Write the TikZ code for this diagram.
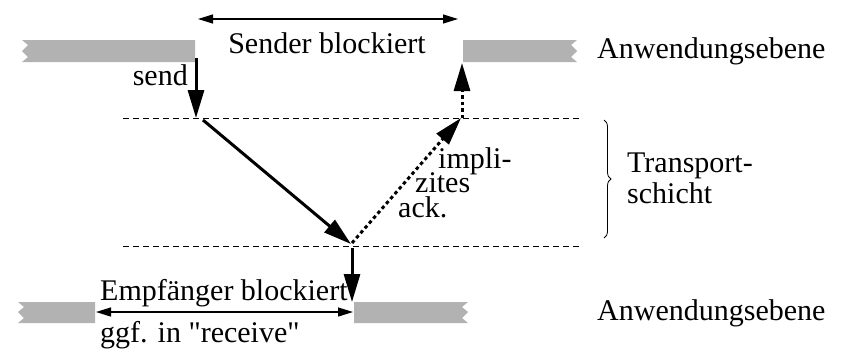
\documentclass[tikz,border=0pt]{standalone}
\usepackage{fontspec}
\setmainfont{Liberation Serif}[Ligatures=TeXOff]
\usetikzlibrary{positioning,arrows.meta,decorations.pathreplacing}

\begin{document}
\begin{tikzpicture}[
  x=1pt, y=-1pt,
  font=\fontsize{30}{34}\selectfont,
  bar/.style={fill=black!30, draw=none},
  layer/.style={dash pattern=on 6pt off 4pt, line width=0.8pt},
  msg/.style={-{Triangle[length=28pt,width=16pt]}, line width=3pt},
  ackmsg/.style={msg, dash pattern=on 3.5pt off 3pt},
  span/.style={{Triangle[length=15pt,width=9pt]}-{Triangle[length=15pt,width=9pt]}, line width=1.3pt},
  lbl/.style={inner sep=0pt},
  tight/.style={lbl, text height=17pt, text depth=2pt}
]
\useasboundingbox (0,0) rectangle (850,349);
% application level bars
\fill[bar] (22,40) -- (195,40) -- (195,62) -- (22,62) -- (28,57) -- (22,51) -- (28,45) -- cycle;
\fill[bar] (463,40) -- (577,40) -- (571,45) -- (577,51) -- (571,57) -- (577,62) -- (463,62) -- cycle;
\fill[bar] (18,302) -- (95,302) -- (95,323) -- (18,323) -- (24,318) -- (18,312) -- (24,307) -- cycle;
\fill[bar] (354,302) -- (468,302) -- (462,307) -- (468,312) -- (462,318) -- (468,323) -- (354,323) -- cycle;
% transport layer
\coordinate (tl) at (123,118);
\coordinate (tr) at (580,118);
\coordinate (bl) at (123,246);
\coordinate (br) at (580,246);
\draw[layer] (tl) -- (tr);
\draw[layer] (bl) -- (br);
% message points
\coordinate (snd) at (196,58);
\coordinate (sndT) at (196,118);
\coordinate (dwnA) at (203,120);
\coordinate (dwnB) at (351,244);
\coordinate (rcvA) at (352,248);
\coordinate (rcvB) at (352,302);
\coordinate (ackA) at (352,243);
\coordinate (ackB) at (461,118);
\coordinate (ackC) at (462,118);
\coordinate (ackD) at (462,63);
% blocking spans
\coordinate (sbA) at (198,19);
\coordinate (sbB) at (458,19);
\coordinate (ebA) at (96,312);
\coordinate (ebB) at (353,312);
% labels
\node[lbl, anchor=base] (sblk) at (327,53) {Sender blockiert};
\node[lbl, anchor=base east] (send) at (188,85) {send};
\node[lbl, anchor=base west] (app1) at (597,58) {Anwendungsebene};
\node[lbl, anchor=base west] (app2) at (597,320) {Anwendungsebene};
\node[tight, anchor=base west] (tp1) at (627,172) {Transport-};
\node[tight, anchor=base west] (tp2) at (627,203) {schicht};
\node[tight, anchor=base west] (ack1) at (438,168) {impli-};
\node[tight, anchor=base west] (ack2) at (415,192) {zites};
\node[tight, anchor=base west] (ack3) at (398,217) {ack.};
\node[lbl, anchor=base west] (eblk) at (100,300) {Empfänger blockiert};
\node[lbl, anchor=base west] (recv) at (100,342) {ggf. in "receive"};
% arrows
\draw[span] (sbA) -- (sbB);
\draw[span] (ebA) -- (ebB);
\draw[msg] (snd) -- (sndT);
\draw[msg] (dwnA) -- (dwnB);
\draw[msg] (rcvA) -- (rcvB);
\draw[ackmsg] (ackA) -- (ackB);
\draw[ackmsg] (ackC) -- (ackD);
% brace
\coordinate (brT) at (604,120);
\coordinate (brB) at (604,238);
\draw[decorate, decoration={brace, amplitude=7pt}, line width=0.8pt] (brT) -- (brB);
\end{tikzpicture}
\end{document}
